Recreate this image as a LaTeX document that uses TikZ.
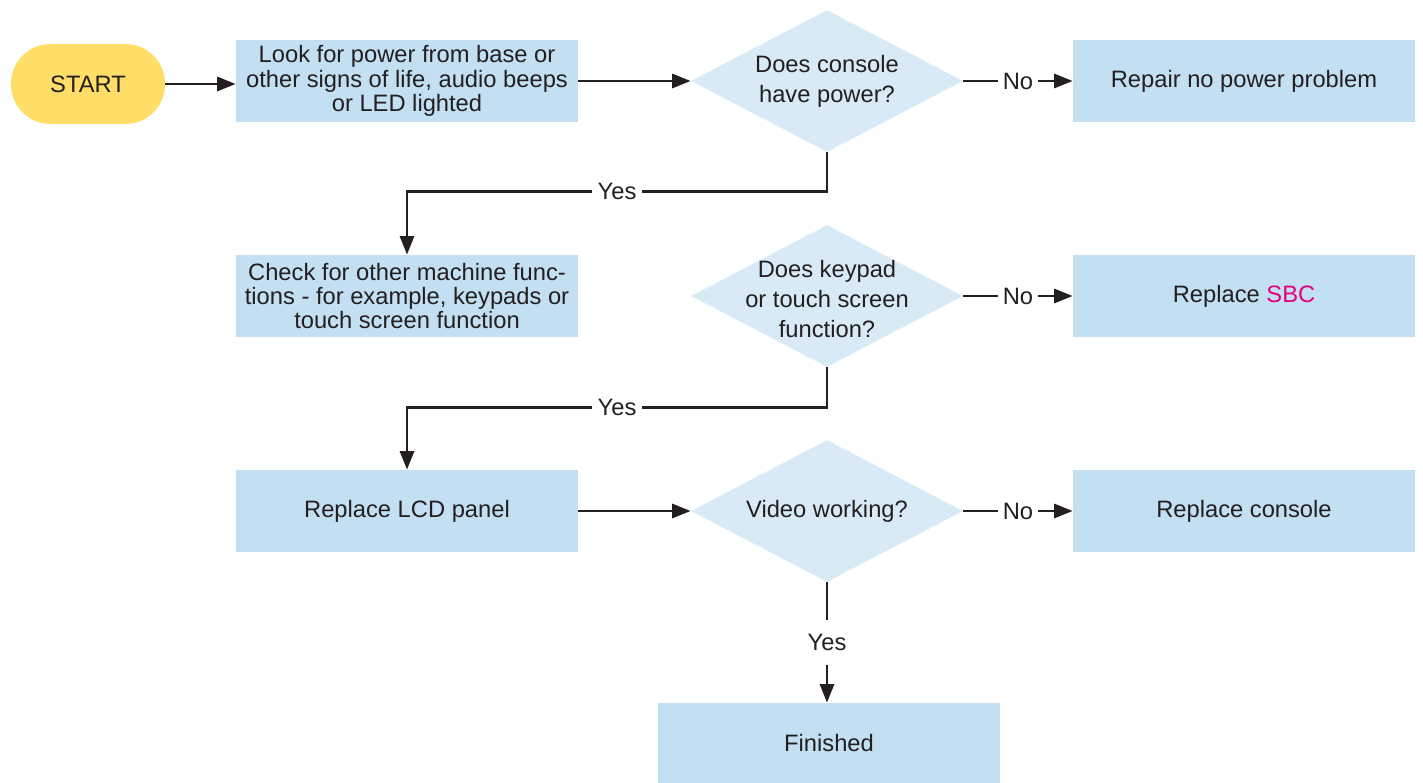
\documentclass[tikz,border=0pt]{standalone}
\usepackage{fontspec}
\setmainfont{Liberation Sans}
\usetikzlibrary{arrows.meta, shapes.geometric}
\definecolor{boxblue}{HTML}{C3DFF2}
\definecolor{diablue}{HTML}{D9EAF7}
\definecolor{startyellow}{HTML}{FFDD66}
\definecolor{ink}{HTML}{231F20}
\definecolor{sbcpink}{HTML}{E5007E}

\begin{document}
\begin{tikzpicture}[x=0.02cm, y=-0.02cm, >={Triangle[length=3.7mm, width=2.8mm]},
  box/.style={fill=boxblue, minimum width=6.84cm, minimum height=1.64cm, inner sep=0pt,
              align=center, text=ink, font=\fontsize{13.5}{13.8}\selectfont},
  decision/.style={diamond, fill=diablue, minimum width=5.44cm, minimum height=2.84cm,
              aspect=1.92, inner sep=0pt, align=center, text=ink, font=\fontsize{13.5}{17}\selectfont},
  dtext/.style={align=center, inner sep=0pt, text=ink, font=\fontsize{13.5}{17}\selectfont},
  flow/.style={->, draw=ink, line width=1.6pt},
  lbl/.style={fill=white, inner sep=3pt, text=ink, font=\fontsize{13.5}{14}\selectfont}]
\useasboundingbox (0,0) rectangle (1423,783);

\node[fill=startyellow, rounded corners=0.79cm, minimum width=3.08cm, minimum height=1.6cm,
      text=ink, font=\fontsize{13.5}{14}\selectfont] (start) at (88,84) {START};
\node[box] (look) at (407,81)
  {Look for power from base or\\other signs of life, audio beeps\\or LED lighted};
\node[decision] (power) at (827,81) {Does console\\have power?};
\node[box] (repair) at (1244,81) {Repair no power problem};

\node[box] (check) at (407,296)
  {Check for other machine func-\\tions - for example, keypads or\\touch screen function};
\node[decision] (keypad) at (827,296) {};
\node[dtext] (keypadtext) at (827,299) {Does keypad\\or touch screen\\function?};
\node[box] (sbc) at (1244,296) {Replace \textcolor{sbcpink}{SBC}};

\node[box] (lcd) at (407,511) {Replace LCD panel};
\node[decision] (video) at (827,511) {Video working?};
\node[box] (console) at (1244,511) {Replace console};

\node[box, minimum height=1.6cm] (done) at (829,743) {Finished};

\draw[flow] (start.east) -- (start.east -| look.west);
\draw[flow] (look.east) -- (power.west);
\draw[flow] (power.east) -- node[lbl]{No} (repair.west);
\draw[flow] (power.south) -- ++(0,39) -| node[lbl, pos=0.25]{Yes} (check.north);

\draw[flow] (keypad.east) -- node[lbl]{No} (sbc.west);
\draw[flow] (keypad.south) -- ++(0,40) -| node[lbl, pos=0.25]{Yes} (lcd.north);

\draw[flow] (lcd.east) -- (video.west);
\draw[flow] (video.east) -- node[lbl]{No} (console.west);
\draw[flow] (video.south) -- node[lbl, inner sep=8pt]{Yes} (video.south |- done.north);
\end{tikzpicture}
\end{document}
